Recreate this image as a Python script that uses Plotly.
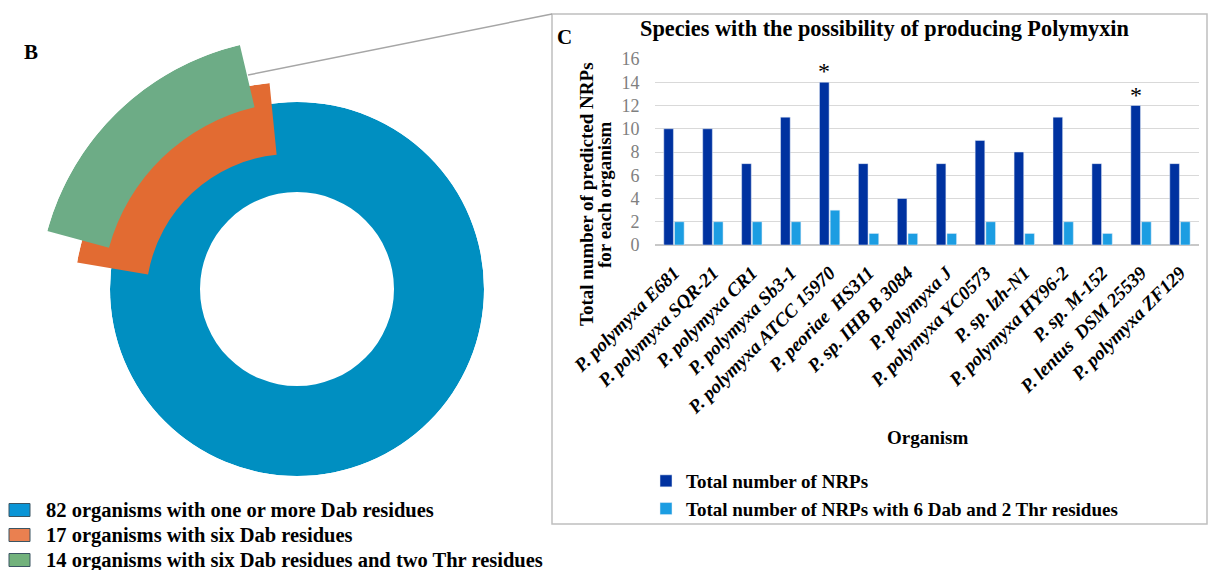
import plotly.graph_objects as go

W, H = 1211, 570

# ---------------- data ----------------
organisms = [
    "P. polymyxa E681", "P. polymyxa SQR-21", "P. polymyxa CR1", "P. polymyxa Sb3-1",
    "P. polymyxa ATCC 15970", "P. peoriae  HS311", "P. sp. IHB B 3084", "P. polymyxa J",
    "P. polymyxa YC0573", "P. sp. lzh-N1", "P. polymyxa HY96-2", "P. sp. M-152",
    "P. lentus  DSM 25539", "P. polymyxa ZF129",
]
total_nrps = [10, 10, 7, 11, 14, 7, 4, 7, 9, 8, 11, 7, 12, 7]
nrps_6dab_2thr = [2, 2, 2, 2, 3, 1, 1, 1, 2, 1, 2, 1, 2, 2]
starred = [4, 12]
y_ticks = [0, 2, 4, 6, 8, 10, 12, 14, 16]

donut_labels = [
    "82 organisms with one or more Dab residues",
    "17 organisms with six Dab residues",
    "14 organisms with six Dab residues and two Thr residues",
]
donut_values = [82, 17, 14]

# ---------------- styles ----------------
FONT = "Liberation Serif"
donut_colors = ["#008FC1", "#E26B32", "#6DAC86"]
swatch_colors = ["#0A95D6", "#EA8050", "#72B27C"]
dark_blue = "#0032A0"
light_blue = "#1C9DE2"

def px(x):
    return x / W

def py(y):
    return 1 - y / H

fig = go.Figure()

# ---------------- donut (panel B) ----------------
# each ring piece on its own polar subplot (exploded pieces have shifted centres)
rings = [
    # centre x, centre y, inner radius, outer radius, centre angle
    (297, 289, 97, 187, 90),
    (291, 299, 145, 217, 133),
    (300, 300, 198, 262, 134),
]
total = donut_values[0]
for i, (cx, cy, rin, rout, ang) in enumerate(rings):
    name = "polar" if i == 0 else f"polar{i+1}"
    fig.add_trace(go.Barpolar(
        r=[rout - rin], base=[rin], theta=[ang],
        width=[donut_values[i] / total * 360],
        marker=dict(color=donut_colors[i], line=dict(width=0)),
        name=donut_labels[i], showlegend=False,
        subplot=name, hoverinfo="name",
    ))
    fig.layout[name] = dict(
        domain=dict(x=[px(cx - rout), px(cx + rout)], y=[py(cy + rout), py(cy - rout)]),
        bgcolor="rgba(0,0,0,0)",
        radialaxis=dict(visible=False, range=[0, rout]),
        angularaxis=dict(visible=False, direction="counterclockwise", rotation=0),
        barmode="overlay",
    )

# legend of panel B (swatches + labels)
for i, lab in enumerate(donut_labels):
    yc = 510 + i * 25
    fig.add_shape(type="rect", xref="paper", yref="paper",
                  x0=px(9), x1=px(30), y0=py(yc + 6.5), y1=py(yc - 6.5),
                  fillcolor=swatch_colors[i], line=dict(color="#3B5563", width=1))
    fig.add_annotation(x=px(44), y=py(yc), xref="paper", yref="paper",
                       text=f"<b>{lab}</b>", showarrow=False,
                       xanchor="left", yanchor="middle",
                       font=dict(family=FONT, size=20.5, color="black"))

# ---------------- bar chart (panel C) ----------------
fig.add_trace(go.Bar(x=organisms, y=total_nrps, name="Total number of NRPs",
                     marker_color=dark_blue, legend="legend"))
fig.add_trace(go.Bar(x=organisms, y=nrps_6dab_2thr,
                     name="Total number of NRPs with 6 Dab and 2 Thr residues",
                     marker_color=light_blue, legend="legend"))

fig.update_layout(
    width=W, height=H,
    margin=dict(l=0, r=0, t=0, b=0, autoexpand=False),
    paper_bgcolor="white", plot_bgcolor="white",
    barmode="group", bargap=0.45, bargroupgap=0.1,
    font=dict(family=FONT, color="black"),
    xaxis=dict(domain=[px(654.5), px(1199.4)], tickangle=-45,
               tickfont=dict(family=FONT, size=19, style="italic", weight="bold", color="black"),
               showgrid=False, showline=False, ticks="", anchor="y", automargin=False,
               ticklabelstandoff=12),
    yaxis=dict(domain=[py(245), py(59)], range=[0, 16], tickvals=y_ticks,
               tickfont=dict(family=FONT, size=18, color="#808080"),
               gridcolor="#D9D9D9", gridwidth=1, zeroline=True, zerolinecolor="#C8C8C8",
               zerolinewidth=1.5, showline=False, ticks="", ticklabelstandoff=14,
               automargin=False),
    showlegend=True,
    legend=dict(x=px(646), y=py(462), xanchor="left", yanchor="top",
                font=dict(family=FONT, size=19, weight="bold", color="black"),
                bgcolor="rgba(0,0,0,0)", orientation="v", tracegroupgap=0),
)

# asterisks above marked bars
for i in starred:
    fig.add_annotation(x=organisms[i], y=total_nrps[i], xref="x", yref="y",
                       text="*", showarrow=False, xanchor="center", yanchor="bottom",
                       xshift=-5.5, yshift=-4,
                       font=dict(family=FONT, size=24, color="black"))

def label(x, y, text, size, angle=0):
    fig.add_annotation(x=px(x), y=py(y), xref="paper", yref="paper",
                       text=text, textangle=angle, showarrow=False,
                       xanchor="center", yanchor="middle",
                       font=dict(family=FONT, size=size, color="black"))

label(885, 28, "<b>Species with the possibility of producing Polymyxin</b>", 22.3)
label(587, 194, "<b>Total number of predicted NRPs</b>", 19, -90)
label(605, 195, "<b>for each organism</b>", 19, -90)
label(927, 437, "<b>Organism</b>", 19)
label(564, 37, "<b>C</b>", 21)
label(31, 52, "<b>B</b>", 21)

# frame of panel C and connector line
fig.add_shape(type="rect", xref="paper", yref="paper",
              x0=px(552), y0=py(524), x1=px(1207), y1=py(14),
              line=dict(color="#BFBFBF", width=1.5), layer="below")
fig.add_shape(type="line", xref="paper", yref="paper",
              x0=px(248), y0=py(75), x1=px(552), y1=py(14),
              line=dict(color="#A6A6A6", width=1.5))

fig.write_html("out.html", config={"displayModeBar": False},
               post_script="document.body.style.margin='0px';")
